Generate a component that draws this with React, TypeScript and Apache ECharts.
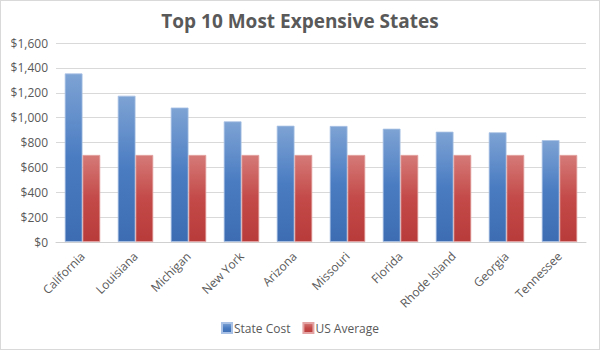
import React, { useEffect, useRef } from "react";
import * as echarts from "echarts";

const categories = ["California", "Louisiana", "Michigan", "New York", "Arizona", "Missouri", "Florida", "Rhode Island", "Georgia", "Tennessee"];
const stateCost = [1355, 1176, 1081, 970, 935, 933, 911, 887, 882, 819];
const usAverage = [700, 700, 700, 700, 700, 700, 700, 700, 700, 700];
const yTicks = { min: 0, max: 1600, interval: 200 };

const FONT = "'Open Sans', 'Noto Sans', sans-serif";

export default function App() {
  const ref = useRef<HTMLDivElement>(null);
  useEffect(() => {
    const chart = echarts.init(ref.current!, null, { renderer: "svg" });
    const blue = new echarts.graphic.LinearGradient(0, 0, 0, 1, [
      { offset: 0, color: "#7ea3d4" },
      { offset: 0.5, color: "#4a7cc2" },
      { offset: 1, color: "#3d6cb2" },
    ]);
    const red = new echarts.graphic.LinearGradient(0, 0, 0, 1, [
      { offset: 0, color: "#d57a78" },
      { offset: 0.5, color: "#c34a48" },
      { offset: 1, color: "#b83b3a" },
    ]);
    chart.setOption({
      animation: false,
      backgroundColor: "#ffffff",
      title: {
        text: "Top 10 Most Expensive States",
        left: "center",
        top: 5,
        textStyle: { fontFamily: FONT, fontSize: 19, fontWeight: "bold", color: "#595959" },
      },
      grid: { left: 55, right: 13, top: 42, bottom: 107, containLabel: false },
      legend: {
        bottom: 10,
        left: "center",
        itemWidth: 10,
        itemHeight: 10,
        itemGap: 12,
        icon: "rect",
        textStyle: { fontFamily: FONT, fontSize: 12, color: "#595959", padding: [0, 0, 0, -3] },
        data: ["State Cost", "US Average"],
      },
      xAxis: {
        type: "category",
        data: categories,
        axisLine: { lineStyle: { color: "#d0d0d0", width: 1 } },
        axisTick: { show: false },
        axisLabel: { rotate: 45, fontFamily: FONT, fontSize: 12, color: "#595959", margin: 12, interval: 0 },
      },
      yAxis: {
        type: "value",
        min: yTicks.min,
        max: yTicks.max,
        interval: yTicks.interval,
        axisLine: { show: false },
        axisTick: { show: false },
        splitLine: { lineStyle: { color: "#d9d9d9", width: 1 } },
        axisLabel: {
          fontFamily: FONT,
          fontSize: 12,
          color: "#595959",
          margin: 8,
          formatter: (v: number) => "$" + v.toLocaleString("en-US"),
        },
      },
      series: [
        {
          name: "State Cost",
          type: "bar",
          data: stateCost,
          barGap: "0%",
          barCategoryGap: "33%",
          itemStyle: { color: blue, borderColor: "#a9c1e4", borderWidth: 0.8 },
        },
        {
          name: "US Average",
          type: "bar",
          data: usAverage,
          itemStyle: { color: red, borderColor: "#e3a3a2", borderWidth: 0.8 },
        },
      ],
    });
    return () => chart.dispose();
  }, []);
  return (
    <div
      ref={ref}
      style={{ position: "fixed", left: 0, top: 0, width: 600, height: 350, boxSizing: "border-box", border: "1px solid #d9d9d9" }}
    />
  );
}
